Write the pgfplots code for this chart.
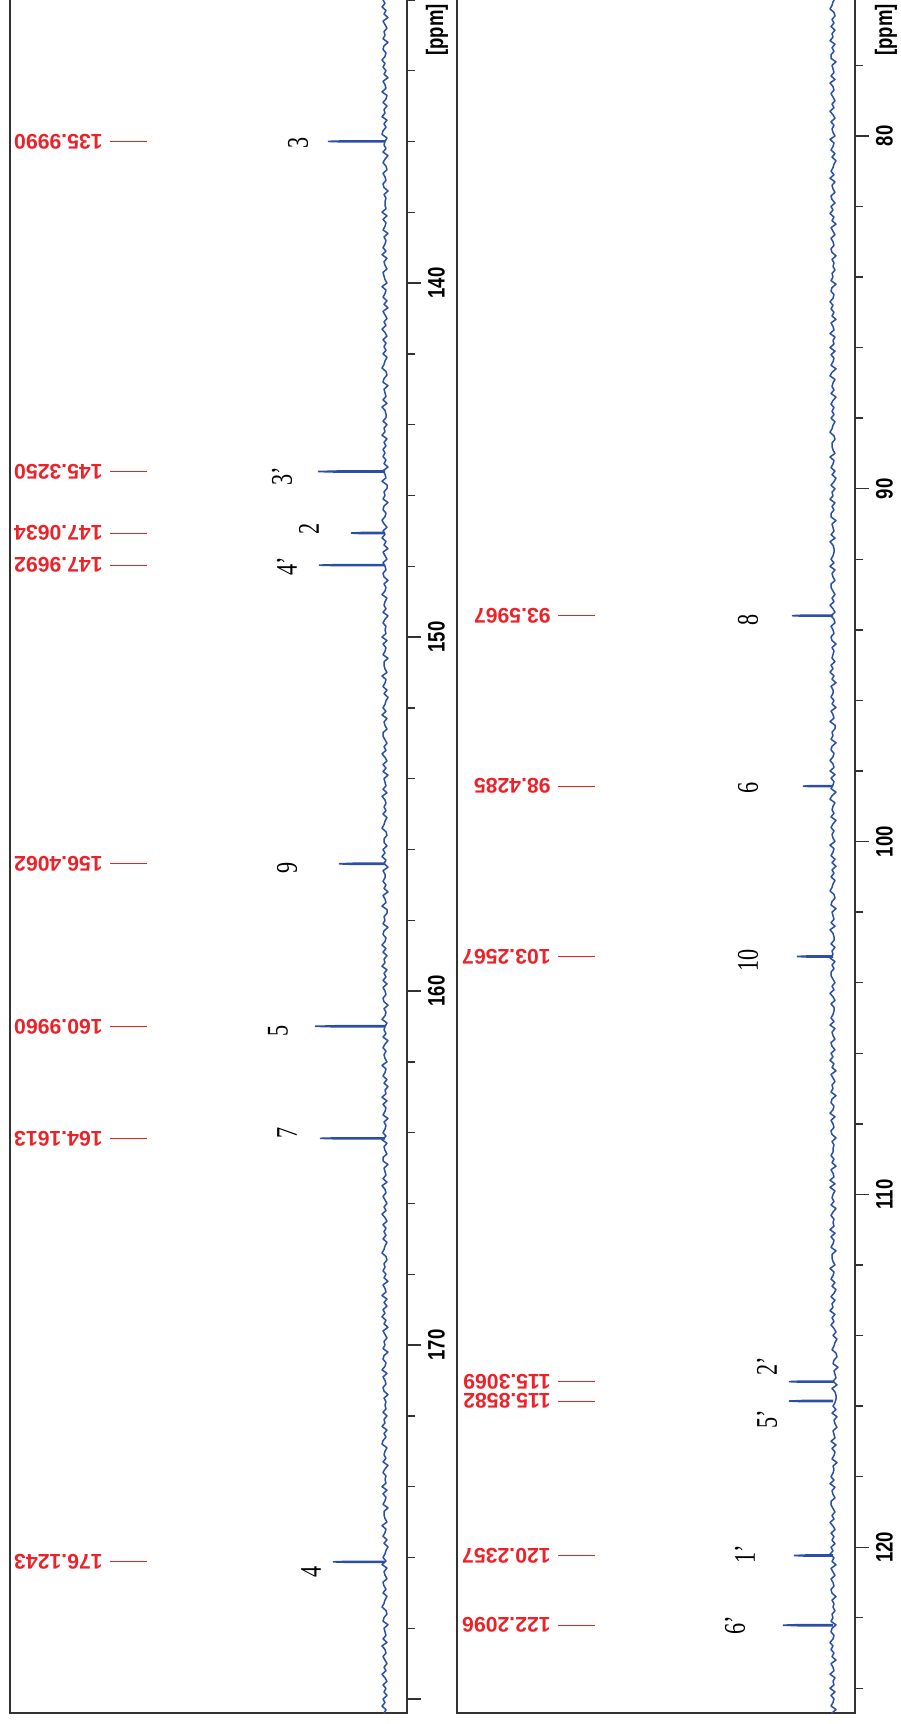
\documentclass[border=0pt]{standalone}
\usepackage{fontspec}
\setmainfont{Liberation Sans}
\newfontfamily\atomfont{Liberation Serif}
\usepackage{pgfplots}
\pgfplotsset{compat=1.18}
\definecolor{specblue}{RGB}{44,78,165}
\definecolor{lblred}{RGB}{236,34,40}
\definecolor{framegray}{RGB}{50,50,50}
\pgfplotsset{
  nmr/.style={
    scale only axis, width=198.5pt, height=859pt,
    x dir=reverse, y dir=reverse,
    xmin=-22,
    xtick=\empty,
    ytick pos=right,
    tick align=outside,
    major tick length=7pt, minor tick length=4pt,
    every tick/.style={framegray, line width=0.7pt},
    axis line style={framegray, line width=0.9pt},
    clip mode=individual,
    yticklabel style={font=\bfseries\fontsize{11.9}{12}\selectfont, rotate=90, anchor=north, xscale=0.78},
  },
  spec/.style={specblue, line width=0.8pt, mark=none},
  noise/.style={specblue, line width=0.75pt, mark=none, line join=round},
}
\newcommand{\plbl}[2]{%
  \draw[lblred, line width=0.5pt] (axis cs:275,#1) -- (axis cs:238,#1);
  \node[lblred, rotate=180, anchor=west, inner sep=0pt, font=\bfseries\fontsize{10.6}{11}\selectfont] at (axis cs:282,#1) {#2};}
\newcommand{\albl}[3]{%
  \node[rotate=90, xscale=0.74, inner sep=0pt, font=\atomfont\fontsize{15}{16}\selectfont] at (axis cs:#1,#2) {#3};}
\newcommand{\ppmlbl}[2]{%
  \node[rotate=90, xscale=0.78, inner sep=0pt, font=\bfseries\fontsize{11.9}{12}\selectfont] at (axis cs:#1,#2) {[ppm]};}
\begin{document}
\begin{tikzpicture}
\useasboundingbox (0pt,-862pt) rectangle (450pt,0pt);
% ---------------- left panel ----------------
\begin{axis}[nmr, at={(5pt,-856.5pt)}, anchor=south west,
  xmax=375, ymin=131.864, ymax=180.395,
  ytick={140,150,160,170,180}, yticklabels={140,150,160,170,{}},
  minor ytick={132,134,...,180}]
\addplot[noise] table[row sep=\\] {x y\\
1 131.8\\ -2 131.9\\ 2 132.0\\ 0 132.1\\ 3 132.2\\ -1 132.3\\ 1 132.4\\ -3 132.5\\ 2 132.6\\ 0 132.7\\
-2 132.8\\ 1 132.9\\ 0 133.0\\ 2 133.1\\ -3 133.2\\ 1 133.3\\ 2 133.4\\ -1 133.5\\ 0 133.6\\ 3 133.7\\
0 133.8\\ 2 133.9\\ -1 134.0\\ 1 134.1\\ -3 134.2\\ 2 134.3\\ 0 134.4\\ -1 134.5\\ 3 134.6\\ -2 134.7\\
-1 134.8\\ 2 134.9\\ -2 135.0\\ 1 135.1\\ 0 135.2\\ 3 135.3\\ -2 135.4\\ 1 135.5\\ -1 135.6\\ 2 135.7\\
3 135.8\\ -2 135.9\\ 0 136.0\\ 1 136.1\\ -1 136.2\\ 2 136.3\\ -3 136.4\\ 0 136.5\\ 2 136.6\\ -1 136.7\\
-2 136.8\\ 2 136.9\\ 0 137.0\\ -1 137.1\\ 2 137.2\\ 1 137.3\\ -3 137.4\\ 1 137.5\\ -1 137.6\\ 0 137.7\\
0 137.8\\ -1 137.9\\ 3 138.0\\ -2 138.1\\ 2 138.2\\ -1 138.3\\ 0 138.4\\ 2 138.5\\ -3 138.6\\ 1 138.7\\
-1 138.8\\ 0 138.9\\ 2 139.0\\ -1 139.1\\ 3 139.2\\ -2 139.3\\ 1 139.4\\ 0 139.5\\ -2 139.6\\ 2 139.7\\
1 139.8\\ 0 139.9\\ -2 140.0\\ 3 140.1\\ -1 140.2\\ 0 140.3\\ 2 140.4\\ -2 140.5\\ 1 140.6\\ -3 140.7\\
2 140.8\\ 0 140.9\\ -2 141.0\\ 1 141.1\\ -1 141.2\\ 3 141.3\\ 0 141.4\\ -2 141.5\\ 2 141.6\\ -1 141.7\\
1 141.8\\ -1 141.9\\ 2 142.0\\ -2 142.1\\ 0 142.2\\ 1 142.3\\ 3 142.4\\ -1 142.5\\ -2 142.6\\ 1 142.7\\
2 142.8\\ -3 142.9\\ 1 143.0\\ 0 143.1\\ -1 143.2\\ 2 143.3\\ -2 143.4\\ 3 143.5\\ 0 143.6\\ -1 143.7\\
-1 143.8\\ 2 143.9\\ -2 144.0\\ 1 144.1\\ 0 144.2\\ 3 144.3\\ -2 144.4\\ 1 144.5\\ -1 144.6\\ 2 144.7\\
0 144.8\\ 2 144.9\\ -1 145.0\\ 1 145.1\\ -3 145.2\\ 2 145.3\\ 0 145.4\\ -1 145.5\\ 3 145.6\\ -2 145.7\\
-2 145.8\\ 1 145.9\\ 0 146.0\\ 2 146.1\\ -3 146.2\\ 1 146.3\\ 2 146.4\\ -1 146.5\\ 0 146.6\\ 3 146.7\\
1 146.8\\ -2 146.9\\ 2 147.0\\ 0 147.1\\ 3 147.2\\ -1 147.3\\ 1 147.4\\ -3 147.5\\ 2 147.6\\ 0 147.7\\
-2 147.8\\ 2 147.9\\ 0 148.0\\ -1 148.1\\ 2 148.2\\ 1 148.3\\ -3 148.4\\ 1 148.5\\ -1 148.6\\ 0 148.7\\
3 148.8\\ -2 148.9\\ 0 149.0\\ 1 149.1\\ -1 149.2\\ 2 149.3\\ -3 149.4\\ 0 149.5\\ 2 149.6\\ -1 149.7\\
0 149.8\\ -1 149.9\\ 3 150.0\\ -2 150.1\\ 2 150.2\\ -1 150.3\\ 0 150.4\\ 2 150.5\\ -3 150.6\\ 1 150.7\\
1 150.8\\ 0 150.9\\ -2 151.0\\ 3 151.1\\ -1 151.2\\ 0 151.3\\ 2 151.4\\ -2 151.5\\ 1 151.6\\ -3 151.7\\
-1 151.8\\ 0 151.9\\ 2 152.0\\ -1 152.1\\ 3 152.2\\ -2 152.3\\ 1 152.4\\ 0 152.5\\ -2 152.6\\ 2 152.7\\
2 152.8\\ 0 152.9\\ -2 153.0\\ 1 153.1\\ -1 153.2\\ 3 153.3\\ 0 153.4\\ -2 153.5\\ 2 153.6\\ -1 153.7\\
2 153.8\\ -3 153.9\\ 1 154.0\\ 0 154.1\\ -1 154.2\\ 2 154.3\\ -2 154.4\\ 3 154.5\\ 0 154.6\\ -1 154.7\\
1 154.8\\ -1 154.9\\ 2 155.0\\ -2 155.1\\ 0 155.2\\ 1 155.3\\ 3 155.4\\ -1 155.5\\ -2 155.6\\ 1 155.7\\
1 155.8\\ -2 155.9\\ 2 156.0\\ 0 156.1\\ 3 156.2\\ -1 156.3\\ 1 156.4\\ -3 156.5\\ 2 156.6\\ 0 156.7\\
0 156.8\\ 2 156.9\\ -1 157.0\\ 1 157.1\\ -3 157.2\\ 2 157.3\\ 0 157.4\\ -1 157.5\\ 3 157.6\\ -2 157.7\\
-2 157.8\\ 1 157.9\\ 0 158.0\\ 2 158.1\\ -3 158.2\\ 1 158.3\\ 2 158.4\\ -1 158.5\\ 0 158.6\\ 3 158.7\\
-1 158.8\\ 2 158.9\\ -2 159.0\\ 1 159.1\\ 0 159.2\\ 3 159.3\\ -2 159.4\\ 1 159.5\\ -1 159.6\\ 2 159.7\\
-2 159.8\\ 2 159.9\\ 0 160.0\\ -1 160.1\\ 2 160.2\\ 1 160.3\\ -3 160.4\\ 1 160.5\\ -1 160.6\\ 0 160.7\\
3 160.8\\ -2 160.9\\ 0 161.0\\ 1 161.1\\ -1 161.2\\ 2 161.3\\ -3 161.4\\ 0 161.5\\ 2 161.6\\ -1 161.7\\
1 161.8\\ 0 161.9\\ -2 162.0\\ 3 162.1\\ -1 162.2\\ 0 162.3\\ 2 162.4\\ -2 162.5\\ 1 162.6\\ -3 162.7\\
0 162.8\\ -1 162.9\\ 3 163.0\\ -2 163.1\\ 2 163.2\\ -1 163.3\\ 0 163.4\\ 2 163.5\\ -3 163.6\\ 1 163.7\\
-1 163.8\\ 0 163.9\\ 2 164.0\\ -1 164.1\\ 3 164.2\\ -2 164.3\\ 1 164.4\\ 0 164.5\\ -2 164.6\\ 2 164.7\\
2 164.8\\ -3 164.9\\ 1 165.0\\ 0 165.1\\ -1 165.2\\ 2 165.3\\ -2 165.4\\ 3 165.5\\ 0 165.6\\ -1 165.7\\
2 165.8\\ 0 165.9\\ -2 166.0\\ 1 166.1\\ -1 166.2\\ 3 166.3\\ 0 166.4\\ -2 166.5\\ 2 166.6\\ -1 166.7\\
1 166.8\\ -1 166.9\\ 2 167.0\\ -2 167.1\\ 0 167.2\\ 1 167.3\\ 3 167.4\\ -1 167.5\\ -2 167.6\\ 1 167.7\\
0 167.8\\ 2 167.9\\ -1 168.0\\ 1 168.1\\ -3 168.2\\ 2 168.3\\ 0 168.4\\ -1 168.5\\ 3 168.6\\ -2 168.7\\
1 168.8\\ -2 168.9\\ 2 169.0\\ 0 169.1\\ 3 169.2\\ -1 169.3\\ 1 169.4\\ -3 169.5\\ 2 169.6\\ 0 169.7\\
-2 169.8\\ 1 169.9\\ 0 170.0\\ 2 170.1\\ -3 170.2\\ 1 170.3\\ 2 170.4\\ -1 170.5\\ 0 170.6\\ 3 170.7\\
-2 170.8\\ 2 170.9\\ 0 171.0\\ -1 171.1\\ 2 171.2\\ 1 171.3\\ -3 171.4\\ 1 171.5\\ -1 171.6\\ 0 171.7\\
-1 171.8\\ 2 171.9\\ -2 172.0\\ 1 172.1\\ 0 172.2\\ 3 172.3\\ -2 172.4\\ 1 172.5\\ -1 172.6\\ 2 172.7\\
3 172.8\\ -2 172.9\\ 0 173.0\\ 1 173.1\\ -1 173.2\\ 2 173.3\\ -3 173.4\\ 0 173.5\\ 2 173.6\\ -1 173.7\\
0 173.8\\ -1 173.9\\ 3 174.0\\ -2 174.1\\ 2 174.2\\ -1 174.3\\ 0 174.4\\ 2 174.5\\ -3 174.6\\ 1 174.7\\
1 174.8\\ 0 174.9\\ -2 175.0\\ 3 175.1\\ -1 175.2\\ 0 175.3\\ 2 175.4\\ -2 175.5\\ 1 175.6\\ -3 175.7\\
-1 175.8\\ 0 175.9\\ 2 176.0\\ -1 176.1\\ 3 176.2\\ -2 176.3\\ 1 176.4\\ 0 176.5\\ -2 176.6\\ 2 176.7\\
1 176.8\\ -1 176.9\\ 2 177.0\\ -2 177.1\\ 0 177.2\\ 1 177.3\\ 3 177.4\\ -1 177.5\\ -2 177.6\\ 1 177.7\\
2 177.8\\ -3 177.9\\ 1 178.0\\ 0 178.1\\ -1 178.2\\ 2 178.3\\ -2 178.4\\ 3 178.5\\ 0 178.6\\ -1 178.7\\
2 178.8\\ 0 178.9\\ -2 179.0\\ 1 179.1\\ -1 179.2\\ 3 179.3\\ 0 179.4\\ -2 179.5\\ 2 179.6\\ -1 179.7\\
1 179.8\\ -2 179.9\\ 2 180.0\\ 0 180.1\\ 3 180.2\\ -1 180.3\\ 1 180.4\\ -3 180.5\\ 2 180.6\\ 0 180.7\\
};
\addplot[spec] coordinates {(0,135.984) (40,135.984) (57,135.999) (40,136.014) (0,136.014)};
\addplot[spec] coordinates {(0,145.310) (47,145.310) (67,145.325) (47,145.340) (0,145.340)};
\addplot[spec] coordinates {(0,147.048) (24,147.048) (34,147.063) (24,147.078) (0,147.078)};
\addplot[spec] coordinates {(0,147.954) (46,147.954) (66,147.969) (46,147.984) (0,147.984)};
\addplot[spec] coordinates {(0,156.391) (32,156.391) (46,156.406) (32,156.421) (0,156.421)};
\addplot[spec] coordinates {(0,160.981) (49,160.981) (70,160.996) (49,161.011) (0,161.011)};
\addplot[spec] coordinates {(0,164.146) (46,164.146) (65,164.161) (46,164.176) (0,164.176)};
\addplot[spec] coordinates {(0,176.109) (36,176.109) (52,176.124) (36,176.139) (0,176.139)};
\plbl{135.9990}{135.9990}
\plbl{145.3250}{145.3250}
\plbl{147.0634}{147.0634}
\plbl{147.9692}{147.9692}
\plbl{156.4062}{156.4062}
\plbl{160.9960}{160.9960}
\plbl{164.1613}{164.1613}
\plbl{176.1243}{176.1243}
\albl{87}{136.05}{3}
\albl{103}{145.45}{3’}
\albl{76}{146.95}{2}
\albl{98}{148.00}{4’}
\albl{98}{156.53}{9}
\albl{107}{161.13}{5}
\albl{98}{164.01}{7}
\albl{74}{176.41}{4}
\ppmlbl{-52}{132.85}
\end{axis}
% ---------------- right panel ----------------
\begin{axis}[nmr, at={(228.5pt,-856.5pt)}, anchor=south west, width=199pt,
  xmax=376, ymin=76.006, ymax=124.70,
  ytick={80,90,100,110,120}, yticklabels={80,90,100,110,120},
  minor ytick={76,78,...,124}]
\addplot[noise] table[row sep=\\] {x y\\
1 75.8\\ -1 75.9\\ 2 76.0\\ -2 76.1\\ 0 76.2\\ 1 76.3\\ 3 76.4\\ -1 76.5\\ -2 76.6\\ 1 76.7\\
-1 76.8\\ 2 76.9\\ -2 77.0\\ 1 77.1\\ 0 77.2\\ 3 77.3\\ -2 77.4\\ 1 77.5\\ -1 77.6\\ 2 77.7\\
2 77.8\\ -3 77.9\\ 1 78.0\\ 0 78.1\\ -1 78.2\\ 2 78.3\\ -2 78.4\\ 3 78.5\\ 0 78.6\\ -1 78.7\\
2 78.8\\ 0 78.9\\ -2 79.0\\ 1 79.1\\ -1 79.2\\ 3 79.3\\ 0 79.4\\ -2 79.5\\ 2 79.6\\ -1 79.7\\
1 79.8\\ 0 79.9\\ -2 80.0\\ 3 80.1\\ -1 80.2\\ 0 80.3\\ 2 80.4\\ -2 80.5\\ 1 80.6\\ -3 80.7\\
-1 80.8\\ 0 80.9\\ 2 81.0\\ -1 81.1\\ 3 81.2\\ -2 81.3\\ 1 81.4\\ 0 81.5\\ -2 81.6\\ 2 81.7\\
1 81.8\\ -2 81.9\\ 2 82.0\\ 0 82.1\\ 3 82.2\\ -1 82.3\\ 1 82.4\\ -3 82.5\\ 2 82.6\\ 0 82.7\\
-2 82.8\\ 2 82.9\\ 0 83.0\\ -1 83.1\\ 2 83.2\\ 1 83.3\\ -3 83.4\\ 1 83.5\\ -1 83.6\\ 0 83.7\\
-2 83.8\\ 1 83.9\\ 0 84.0\\ 2 84.1\\ -3 84.2\\ 1 84.3\\ 2 84.4\\ -1 84.5\\ 0 84.6\\ 3 84.7\\
0 84.8\\ 2 84.9\\ -1 85.0\\ 1 85.1\\ -3 85.2\\ 2 85.3\\ 0 85.4\\ -1 85.5\\ 3 85.6\\ -2 85.7\\
0 85.8\\ -1 85.9\\ 3 86.0\\ -2 86.1\\ 2 86.2\\ -1 86.3\\ 0 86.4\\ 2 86.5\\ -3 86.6\\ 1 86.7\\
3 86.8\\ -2 86.9\\ 0 87.0\\ 1 87.1\\ -1 87.2\\ 2 87.3\\ -3 87.4\\ 0 87.5\\ 2 87.6\\ -1 87.7\\
1 87.8\\ -1 87.9\\ 2 88.0\\ -2 88.1\\ 0 88.2\\ 1 88.3\\ 3 88.4\\ -1 88.5\\ -2 88.6\\ 1 88.7\\
1 88.8\\ 0 88.9\\ -2 89.0\\ 3 89.1\\ -1 89.2\\ 0 89.3\\ 2 89.4\\ -2 89.5\\ 1 89.6\\ -3 89.7\\
-1 89.8\\ 2 89.9\\ -2 90.0\\ 1 90.1\\ 0 90.2\\ 3 90.3\\ -2 90.4\\ 1 90.5\\ -1 90.6\\ 2 90.7\\
2 90.8\\ -3 90.9\\ 1 91.0\\ 0 91.1\\ -1 91.2\\ 2 91.3\\ -2 91.4\\ 3 91.5\\ 0 91.6\\ -1 91.7\\
-1 91.8\\ 0 91.9\\ 2 92.0\\ -1 92.1\\ 3 92.2\\ -2 92.3\\ 1 92.4\\ 0 92.5\\ -2 92.6\\ 2 92.7\\
2 92.8\\ 0 92.9\\ -2 93.0\\ 1 93.1\\ -1 93.2\\ 3 93.3\\ 0 93.4\\ -2 93.5\\ 2 93.6\\ -1 93.7\\
-2 93.8\\ 2 93.9\\ 0 94.0\\ -1 94.1\\ 2 94.2\\ 1 94.3\\ -3 94.4\\ 1 94.5\\ -1 94.6\\ 0 94.7\\
1 94.8\\ -2 94.9\\ 2 95.0\\ 0 95.1\\ 3 95.2\\ -1 95.3\\ 1 95.4\\ -3 95.5\\ 2 95.6\\ 0 95.7\\
0 95.8\\ 2 95.9\\ -1 96.0\\ 1 96.1\\ -3 96.2\\ 2 96.3\\ 0 96.4\\ -1 96.5\\ 3 96.6\\ -2 96.7\\
-2 96.8\\ 1 96.9\\ 0 97.0\\ 2 97.1\\ -3 97.2\\ 1 97.3\\ 2 97.4\\ -1 97.5\\ 0 97.6\\ 3 97.7\\
0 97.8\\ -1 97.9\\ 3 98.0\\ -2 98.1\\ 2 98.2\\ -1 98.3\\ 0 98.4\\ 2 98.5\\ -3 98.6\\ 1 98.7\\
3 98.8\\ -2 98.9\\ 0 99.0\\ 1 99.1\\ -1 99.2\\ 2 99.3\\ -3 99.4\\ 0 99.5\\ 2 99.6\\ -1 99.7\\
1 99.8\\ 0 99.9\\ -2 100.0\\ 3 100.1\\ -1 100.2\\ 0 100.3\\ 2 100.4\\ -2 100.5\\ 1 100.6\\ -3 100.7\\
1 100.8\\ -1 100.9\\ 2 101.0\\ -2 101.1\\ 0 101.2\\ 1 101.3\\ 3 101.4\\ -1 101.5\\ -2 101.6\\ 1 101.7\\
2 101.8\\ -3 101.9\\ 1 102.0\\ 0 102.1\\ -1 102.2\\ 2 102.3\\ -2 102.4\\ 3 102.5\\ 0 102.6\\ -1 102.7\\
-1 102.8\\ 2 102.9\\ -2 103.0\\ 1 103.1\\ 0 103.2\\ 3 103.3\\ -2 103.4\\ 1 103.5\\ -1 103.6\\ 2 103.7\\
2 103.8\\ 0 103.9\\ -2 104.0\\ 1 104.1\\ -1 104.2\\ 3 104.3\\ 0 104.4\\ -2 104.5\\ 2 104.6\\ -1 104.7\\
-1 104.8\\ 0 104.9\\ 2 105.0\\ -1 105.1\\ 3 105.2\\ -2 105.3\\ 1 105.4\\ 0 105.5\\ -2 105.6\\ 2 105.7\\
1 105.8\\ -2 105.9\\ 2 106.0\\ 0 106.1\\ 3 106.2\\ -1 106.3\\ 1 106.4\\ -3 106.5\\ 2 106.6\\ 0 106.7\\
-2 106.8\\ 1 106.9\\ 0 107.0\\ 2 107.1\\ -3 107.2\\ 1 107.3\\ 2 107.4\\ -1 107.5\\ 0 107.6\\ 3 107.7\\
-2 107.8\\ 2 107.9\\ 0 108.0\\ -1 108.1\\ 2 108.2\\ 1 108.3\\ -3 108.4\\ 1 108.5\\ -1 108.6\\ 0 108.7\\
0 108.8\\ 2 108.9\\ -1 109.0\\ 1 109.1\\ -3 109.2\\ 2 109.3\\ 0 109.4\\ -1 109.5\\ 3 109.6\\ -2 109.7\\
3 109.8\\ -2 109.9\\ 0 110.0\\ 1 110.1\\ -1 110.2\\ 2 110.3\\ -3 110.4\\ 0 110.5\\ 2 110.6\\ -1 110.7\\
0 110.8\\ -1 110.9\\ 3 111.0\\ -2 111.1\\ 2 111.2\\ -1 111.3\\ 0 111.4\\ 2 111.5\\ -3 111.6\\ 1 111.7\\
1 111.8\\ 0 111.9\\ -2 112.0\\ 3 112.1\\ -1 112.2\\ 0 112.3\\ 2 112.4\\ -2 112.5\\ 1 112.6\\ -3 112.7\\
-1 112.8\\ 2 112.9\\ -2 113.0\\ 1 113.1\\ 0 113.2\\ 3 113.3\\ -2 113.4\\ 1 113.5\\ -1 113.6\\ 2 113.7\\
-1 113.8\\ -3 113.9\\ 0 114.0\\ -4 114.1\\ -2 114.2\\ -1 114.3\\ 1 114.4\\ -3 114.5\\ -4 114.6\\ -1 114.7\\
0 114.8\\ -5 114.9\\ -1 115.0\\ -2 115.1\\ -3 115.2\\ 0 115.3\\ -4 115.4\\ 1 115.5\\ -2 115.6\\ -3 115.7\\
-3 115.8\\ -2 115.9\\ 0 116.0\\ -3 116.1\\ 1 116.2\\ -4 116.3\\ -1 116.4\\ -2 116.5\\ -4 116.6\\ 0 116.7\\
-1 116.8\\ -2 116.9\\ 2 117.0\\ -3 117.1\\ 1 117.2\\ -2 117.3\\ -1 117.4\\ 1 117.5\\ -4 117.6\\ 0 117.7\\
-1 117.8\\ 0 117.9\\ 2 118.0\\ -1 118.1\\ 3 118.2\\ -2 118.3\\ 1 118.4\\ 0 118.5\\ -2 118.6\\ 2 118.7\\
2 118.8\\ 0 118.9\\ -2 119.0\\ 1 119.1\\ -1 119.2\\ 3 119.3\\ 0 119.4\\ -2 119.5\\ 2 119.6\\ -1 119.7\\
1 119.8\\ -2 119.9\\ 2 120.0\\ 0 120.1\\ 3 120.2\\ -1 120.3\\ 1 120.4\\ -3 120.5\\ 2 120.6\\ 0 120.7\\
-2 120.8\\ 2 120.9\\ 0 121.0\\ -1 121.1\\ 2 121.2\\ 1 121.3\\ -3 121.4\\ 1 121.5\\ -1 121.6\\ 0 121.7\\
-2 121.8\\ 1 121.9\\ 0 122.0\\ 2 122.1\\ -3 122.2\\ 1 122.3\\ 2 122.4\\ -1 122.5\\ 0 122.6\\ 3 122.7\\
0 122.8\\ 2 122.9\\ -1 123.0\\ 1 123.1\\ -3 123.2\\ 2 123.3\\ 0 123.4\\ -1 123.5\\ 3 123.6\\ -2 123.7\\
0 123.8\\ -1 123.9\\ 3 124.0\\ -2 124.1\\ 2 124.2\\ -1 124.3\\ 0 124.4\\ 2 124.5\\ -3 124.6\\ 1 124.7\\
3 124.8\\ -2 124.9\\
};
\addplot[spec] coordinates {(0,93.582) (29,93.582) (41,93.597) (29,93.612) (0,93.612)};
\addplot[spec] coordinates {(0,98.414) (21,98.414) (30,98.429) (21,98.444) (0,98.444)};
\addplot[spec] coordinates {(0,103.242) (25,103.242) (36,103.257) (25,103.272) (0,103.272)};
\addplot[spec] coordinates {(0,115.292) (31,115.292) (44,115.307) (31,115.322) (0,115.322)};
\addplot[spec] coordinates {(0,115.843) (31,115.843) (44,115.858) (31,115.873) (0,115.873)};
\addplot[spec] coordinates {(0,120.221) (27,120.221) (39,120.236) (27,120.251) (0,120.251)};
\addplot[spec] coordinates {(0,122.195) (35,122.195) (50,122.210) (35,122.225) (0,122.225)};
\plbl{93.5967}{93.5967}
\plbl{98.4285}{98.4285}
\plbl{103.2567}{103.2567}
\plbl{115.3069}{115.3069}
\plbl{115.8582}{115.8582}
\plbl{120.2357}{120.2357}
\plbl{122.2096}{122.2096}
\albl{85}{93.71}{8}
\albl{85}{98.47}{6}
\albl{85}{103.37}{10}
\albl{66}{114.87}{2’}
\albl{66}{116.37}{5’}
\albl{88}{120.20}{1’}
\albl{98}{122.21}{6’}
\ppmlbl{-53}{77.0}
\end{axis}
\end{tikzpicture}
\end{document}
